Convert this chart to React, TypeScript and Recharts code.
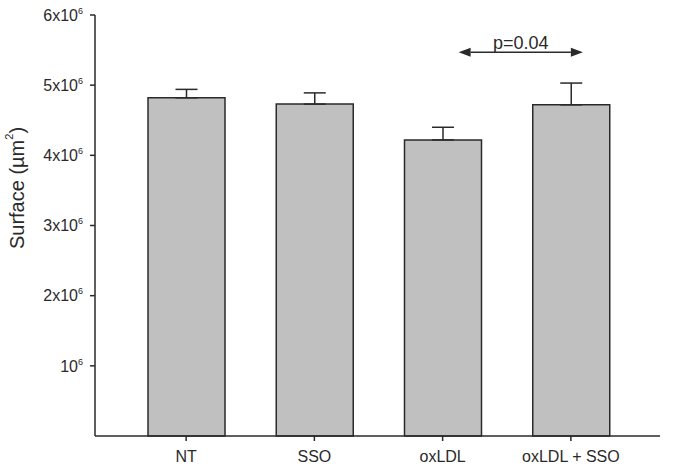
import React from 'react';
import { BarChart, Bar, XAxis, YAxis, ErrorBar, ReferenceLine } from 'recharts';

const categories = ['NT', 'SSO', 'oxLDL', 'oxLDL + SSO'];
const surfaceMeans = [4.82e6, 4.73e6, 4.22e6, 4.72e6];
const surfaceErrors = [0.12e6, 0.16e6, 0.18e6, 0.31e6];
const yTicks = [1e6, 2e6, 3e6, 4e6, 5e6, 6e6];
const pValueLabel = 'p=0.04';
const pArrowLevel = 5.47e6;

const data = categories.map((name, i) => ({
  name,
  value: surfaceMeans[i],
  err: [0, surfaceErrors[i]],
}));

const FONT = '"Liberation Sans", Arial, sans-serif';
const INK = '#2a2a2a';

const YTick = (props: any) => {
  const { x, y, payload } = props;
  const m = Math.round(payload.value / 1e6);
  return (
    <text x={x - 5} y={y} dy="0.36em" textAnchor="end" fontFamily={FONT} fontSize={16} fill={INK}>
      {m === 1 ? '10' : `${m}x10`}
      <tspan dy={-7} fontSize={9}>6</tspan>
    </text>
  );
};

const XTick = (props: any) => {
  const { x, y, payload } = props;
  return (
    <text x={x} y={y} dy="0.71em" textAnchor="middle" fontFamily={FONT} fontSize={16} fill={INK}>
      {payload.value}
    </text>
  );
};

const YLabel = () => (
  <text x={17} y={188} transform="rotate(-90 17 188)" textAnchor="middle" dominantBaseline="central"
    fontFamily={FONT} fontSize={20} fill={INK}>
    Surface (µm<tspan dy={-8} fontSize={11}>2</tspan><tspan dy={8}>)</tspan>
  </text>
);

const PArrow = (props: any) => {
  const { x1, y1, x2 } = props;
  const a = x1 + 16;
  const b = x2 + 12;
  const head = 12;
  return (
    <g>
      <line x1={a + head} y1={y1} x2={b - head} y2={y1} stroke={INK} strokeWidth={1.5} />
      <polygon points={`${a},${y1} ${a + head},${y1 - 4.5} ${a + head},${y1 + 4.5}`} fill={INK} />
      <polygon points={`${b},${y1} ${b - head},${y1 - 4.5} ${b - head},${y1 + 4.5}`} fill={INK} />
      <text x={(a + b) / 2} y={y1 - 3.5} textAnchor="middle" fontFamily={FONT} fontSize={18} fill={INK}>
        {pValueLabel}
      </text>
    </g>
  );
};

export default function App() {
  return (
    <div style={{ position: 'absolute', left: 0, top: 0, width: 693, height: 476, background: '#fff' }}>
      <BarChart width={693} height={476} data={data} margin={{ top: 15, right: 33, bottom: 0, left: 0 }}>
        <XAxis
          dataKey="name"
          height={40}
          padding={{ left: 27, right: 25 }}
          tickSize={5}
          tickMargin={10}
          tick={<XTick />}
          stroke={INK}
          strokeWidth={1.5}
          tickLine={{ stroke: INK, strokeWidth: 1.5 }}
        />
        <XAxis xAxisId="top" orientation="top" dataKey="name" height={0} tick={false} tickLine={false} stroke={INK} strokeWidth={1.5} />
        <YAxis
          width={95}
          domain={[0, 6e6]}
          ticks={yTicks}
          interval={0}
          tickSize={5}
          tick={<YTick />}
          stroke={INK}
          strokeWidth={1.5}
          tickLine={{ stroke: INK, strokeWidth: 1.5 }}
          label={<YLabel />}
        />
        <YAxis yAxisId="right" orientation="right" width={0} tick={false} tickLine={false} stroke={INK} strokeWidth={1.5} />
        <Bar dataKey="value" fill="#c0c0c0" stroke={INK} strokeWidth={1.5} barSize={77} isAnimationActive={false}>
          <ErrorBar dataKey="err" width={11} stroke={INK} strokeWidth={1.5} direction="y" isAnimationActive={false} />
        </Bar>
        <ReferenceLine
          segment={[{ x: 'oxLDL', y: pArrowLevel }, { x: 'oxLDL + SSO', y: pArrowLevel }]}
          shape={<PArrow />}
          ifOverflow="visible"
        />
      </BarChart>
    </div>
  );
}
